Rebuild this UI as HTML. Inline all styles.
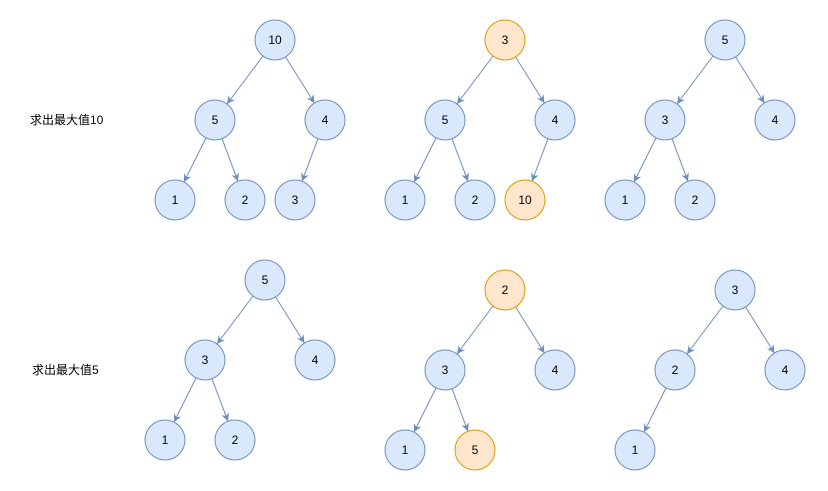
<!DOCTYPE html>
<html><head><meta charset="utf-8"><style>
html,body{margin:0;padding:0;background:#fff;}
svg{display:block;}
text{font-family:"Liberation Sans","Noto Sans CJK SC",sans-serif;font-size:12px;fill:#000;}
</style></head><body>
<svg id="s" width="828" height="491" viewBox="0 0 828 491" xmlns="http://www.w3.org/2000/svg">
<defs><marker id="a" viewBox="0 0 10 10" refX="10" refY="5" markerWidth="8" markerHeight="8" orient="auto" markerUnits="userSpaceOnUse"><path d="M0,0 L10,5 L0,10 L3,5 z" fill="#6c8ebf"/></marker></defs>
<text x="30" y="124">求出最大值10</text>
<text x="32" y="374">求出最大值5</text>
<g id="e"></g><g id="n"></g>
</svg>
<script>
var trees=[
 [[275,40,'10'],[215,120,'5',0],[325,120,'4',0],[175,200,'1',1],[245,200,'2',1],[295,200,'3',2]],
 [[505,40,'3',-1,1],[445,120,'5',0],[555,120,'4',0],[405,200,'1',1],[475,200,'2',1],[525,200,'10',2,1]],
 [[725,40,'5'],[665,120,'3',0],[775,120,'4',0],[625,200,'1',1],[695,200,'2',1]],
 [[265,280,'5'],[205,360,'3',0],[315,360,'4',0],[165,440,'1',1],[235,440,'2',1]],
 [[505,290,'2',-1,1],[445,370,'3',0],[555,370,'4',0],[405,450,'1',1],[475,450,'5',1,1]],
 [[735,290,'3'],[675,370,'2',0],[785,370,'4',0],[635,450,'1',1]]
];
var NS="http://www.w3.org/2000/svg",E=document.getElementById('e'),N=document.getElementById('n'),r=20;
function el(t,a,p){var x=document.createElementNS(NS,t);for(var k in a)x.setAttribute(k,a[k]);p.appendChild(x);return x;}
trees.forEach(function(t){t.forEach(function(nd){
 if(nd[3]!==undefined&&nd[3]>=0){var p=t[nd[3]],dx=nd[0]-p[0],dy=nd[1]-p[1],L=Math.sqrt(dx*dx+dy*dy),ux=dx/L,uy=dy/L;
  el('line',{x1:p[0]+ux*r,y1:p[1]+uy*r,x2:nd[0]-ux*r,y2:nd[1]-uy*r,stroke:'#6c8ebf','stroke-width':1,'marker-end':'url(#a)'},E);}
 var o=nd[4];
 el('circle',{cx:nd[0],cy:nd[1],r:r,fill:o?'#ffe6cc':'#dae8fc',stroke:o?'#d79b00':'#6c8ebf','stroke-width':1},N);
 var tx=el('text',{x:nd[0],y:nd[1]+4,'text-anchor':'middle'},N);tx.textContent=nd[2];
});});
</script>
</body></html>
